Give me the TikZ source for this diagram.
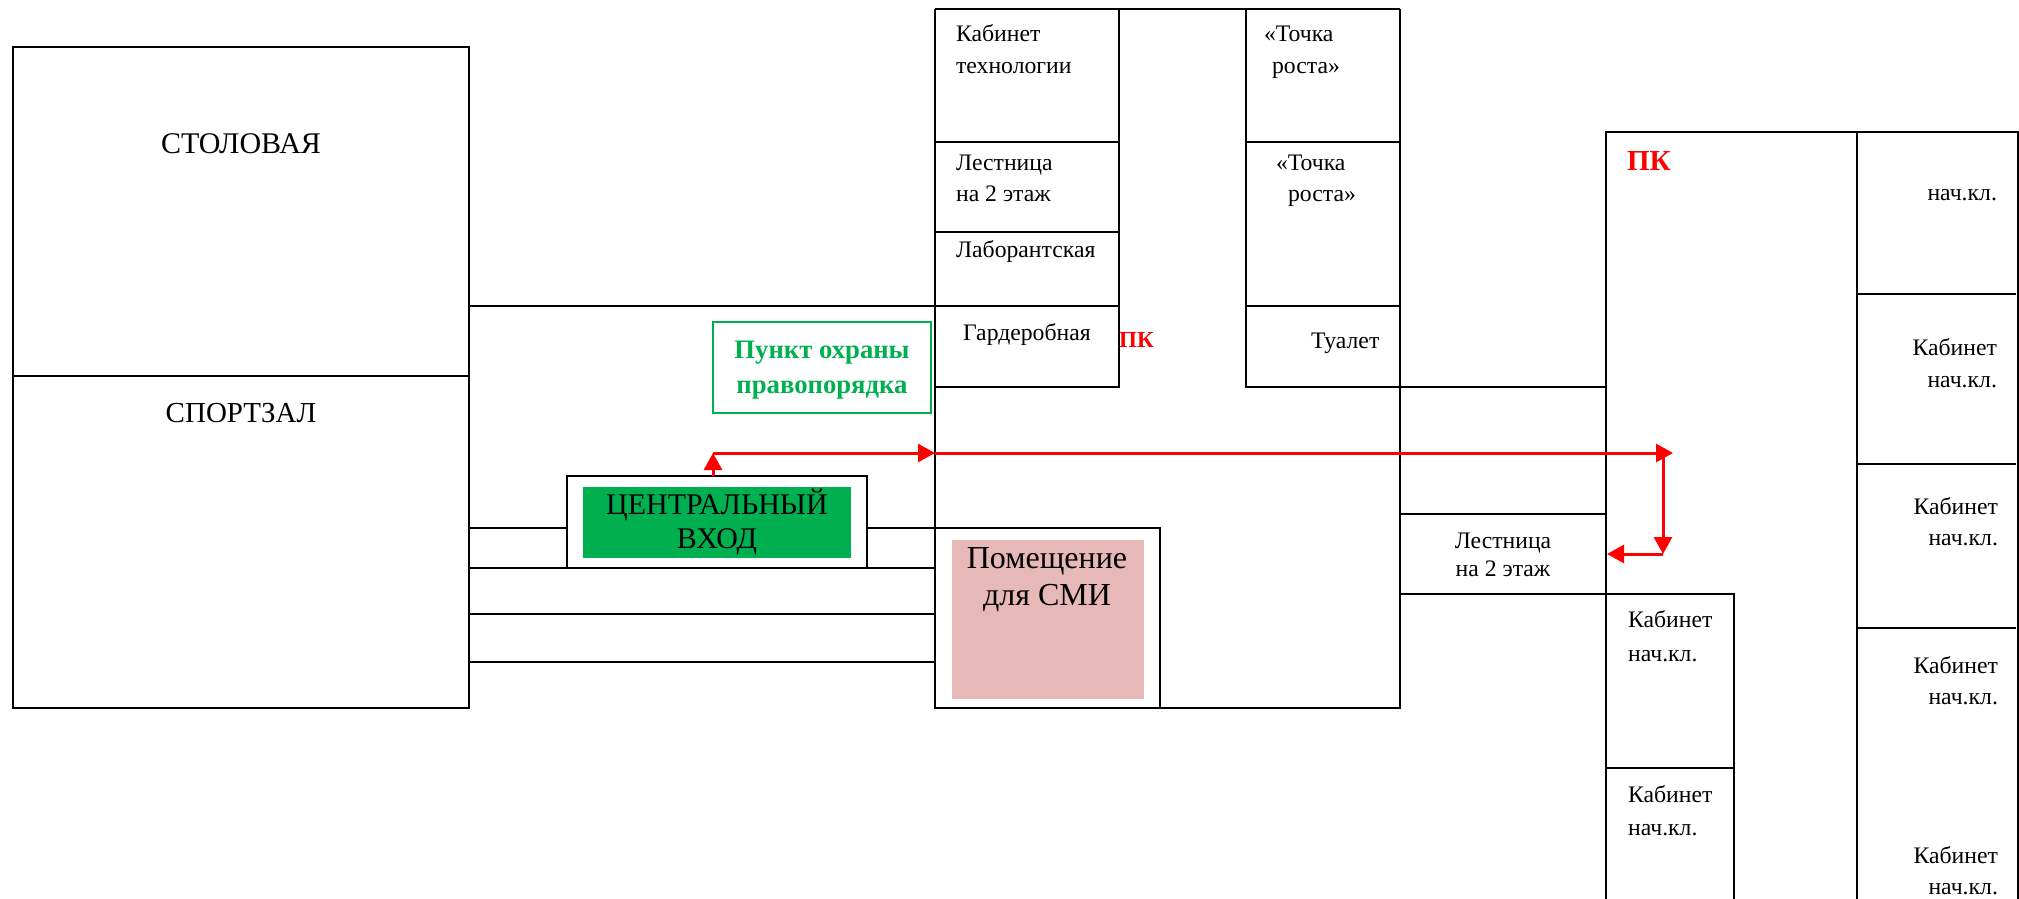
\documentclass[tikz,border=0pt]{standalone}
\usepackage{fontspec}
\setmainfont{Liberation Serif}
\usetikzlibrary{arrows.meta}

\begin{document}
\begin{tikzpicture}
    [x=1pt,y=-1pt,line width=2.2pt,
      wall/.style={draw=black,line join=miter},
      room/.style={anchor=base west,inner sep=0pt,font=\fontsize{23.7}{23.7}\selectfont},
      roomr/.style={room,anchor=base east},
      roomc/.style={room,anchor=base},
      big/.style={anchor=base,inner sep=0pt,font=\fontsize{30}{30}\selectfont},
      pk/.style={anchor=base west,inner sep=0pt,text=red,font=\bfseries\fontsize{23}{23}\selectfont},
      guard/.style={anchor=base,inner sep=0pt,text=guardgreen,font=\bfseries\fontsize{26.7}{26.7}\selectfont},
      route/.style={draw=red,line width=3pt,-{Triangle[length=17pt,width=18pt]}}
    ]
    \definecolor{guardgreen}{HTML}{00B050}
    \definecolor{smipink}{HTML}{E6B8B7}
    \useasboundingbox (0,0) rectangle (2019,899);

    % filled parts
    \fill [guardgreen] (583,487) rectangle (851,558);
    \fill [smipink] (952,540) rectangle (1144,699);

    % left block
    \draw [wall] (13,47) rectangle (469,708);
    \draw [wall] (13,376) -- (469,376);
    \draw [wall] (469,306) -- (935,306);
    \draw [wall] (469,528) -- (567,528);
    \draw [wall] (867,528) -- (935,528);
    \draw [wall] (469,568) -- (935,568);
    \draw [wall] (469,614) -- (935,614);
    \draw [wall] (469,662) -- (935,662);
    \draw [wall] (567,476) rectangle (867,568);
    \draw [draw=guardgreen] (713,322) rectangle (931,413);

    % middle block
    \draw [wall] (935,9) -- (1400,9);
    \draw [wall] (935,9) -- (935,708) -- (1400,708) -- (1400,9);
    \draw [wall] (1119,9) -- (1119,387) -- (935,387);
    \draw [wall] (1246,9) -- (1246,387) -- (1605,387);
    \draw [wall] (935,142) -- (1119,142);
    \draw [wall] (935,232) -- (1119,232);
    \draw [wall] (935,306) -- (1119,306);
    \draw [wall] (1246,142) -- (1400,142);
    \draw [wall] (1246,306) -- (1400,306);
    \draw [wall] (935,528) rectangle (1160,708);
    \draw [wall] (1400,514) -- (1606,514);
    \draw [wall] (1400,594) -- (1734,594) -- (1734,899);

    % right block
    \draw [wall] (1606,899) -- (1606,132) -- (2018,132) -- (2018,899);
    \draw [wall] (1857,132) -- (1857,899);
    \draw [wall] (1606,768) -- (1734,768);
    \draw [wall] (1857,294) -- (2016,294);
    \draw [wall] (1857,464) -- (2016,464);
    \draw [wall] (1857,628) -- (2016,628);

    \node [big] (canteen) at (241,153) {СТОЛОВАЯ};
    \node [big,font=\fontsize{29}{29}\selectfont] (gym) at (241,422) {СПОРТЗАЛ};
    \node [big] (entrA) at (717,514) {ЦЕНТРАЛЬНЫЙ};
    \node [big] (entrB) at (717,548) {ВХОД};
    \node [big,font=\fontsize{32}{32}\selectfont] (smiA) at (1047,568) {Помещение};
    \node [big,font=\fontsize{32}{32}\selectfont] (smiB) at (1047,605) {для СМИ};
    \node [guard] (guardA) at (822,358) {Пункт охраны};
    \node [guard] (guardB) at (822,393) {правопорядка};

    \node [room] (techA) at (955,42) {Кабинет};
    \node [room] (techB) at (955,74) {технологии};
    \node [room] (stairA) at (955,170) {Лестница};
    \node [room] (stairB) at (955,201) {на 2 этаж};
    \node [room] (lab) at (955,257) {Лаборантская};
    \node [room] (ward) at (962,340) {Гардеробная};
    \node [room] (growA) at (1263,42) {«Точка};
    \node [room] (growB) at (1271,74) {роста»};
    \node [room] (growC) at (1275,170) {«Точка};
    \node [room] (growD) at (1287,201) {роста»};
    \node [room] (wc) at (1310,348) {Туалет};
    \node [roomc] (stairC) at (1503,548) {Лестница};
    \node [roomc] (stairD) at (1503,576) {на 2 этаж};

    \node [pk] (pkA) at (1118,347) {ПК};
    \node [pk,font=\bfseries\fontsize{29}{29}\selectfont] (pkB) at (1626,170) {ПК};

    \node [room] (primA) at (1627,627) {Кабинет};
    \node [room] (primB) at (1627,661) {нач.кл.};
    \node [room] (primC) at (1627,802) {Кабинет};
    \node [room] (primD) at (1627,835) {нач.кл.};

    \node [roomr] (primE) at (1998,200) {нач.кл.};
    \node [roomr] (primF) at (1998,355) {Кабинет};
    \node [roomr] (primG) at (1998,387) {нач.кл.};
    \node [roomr] (primH) at (1999,514) {Кабинет};
    \node [roomr] (primI) at (1999,545) {нач.кл.};
    \node [roomr] (primJ) at (1999,673) {Кабинет};
    \node [roomr] (primK) at (1999,704) {нач.кл.};
    \node [roomr] (primL) at (1999,863) {Кабинет};
    \node [roomr] (primM) at (1999,894) {нач.кл.};

    % route to the stairs
    \coordinate (rStart) at (713,476);
    \coordinate (rTurn) at (713,453);
    \coordinate (rWall) at (935,453);
    \coordinate (rEnd) at (1673,453);
    \coordinate (rDown) at (1663,453);
    \coordinate (rCorner) at (1663,554);
    \coordinate (rStair) at (1607,554);
    \draw [route] (rStart) -- (rTurn);
    \draw [route] (rTurn) -- (rWall);
    \draw [route] (rWall) -- (rEnd);
    \draw [route] (rDown) -- (rCorner);
    \draw [route] (rCorner) -- (rStair);
  \end{tikzpicture}
\end{document}
